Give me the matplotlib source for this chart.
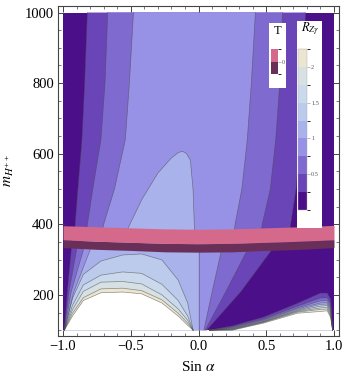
import matplotlib
matplotlib.use('Agg')
import matplotlib.pyplot as plt
from matplotlib.colors import ListedColormap, BoundaryNorm
from matplotlib.patches import Rectangle
from matplotlib.cm import ScalarMappable

plt.rcParams['font.family'] = ['Liberation Serif', 'DejaVu Serif']
plt.rcParams['mathtext.fontset'] = 'stix'

# contour levels of R_Zgamma and their fill colours
levels = [0, 0.25, 0.5, 0.75, 1.0, 1.25, 1.5, 1.75, 2.0, 2.25]
band_colors = ['#4b0f8a', '#6a45b8', '#7f6ad0', '#9892e6', '#aab2ec',
               '#bccbec', '#cad9ec', '#d7e1e3', '#ece5d0']

# upper part (above the T band): x of each contour at y_up
y_up = [340, 400, 500, 640, 800, 1000]
up_left_025 = [-0.92, -0.91, -0.89, -0.86, -0.84, -0.82]
up_left_050 = [-0.84, -0.82, -0.78, -0.72, -0.69, -0.67]
up_left_075 = [-0.73, -0.70, -0.62, -0.54, -0.51, -0.48]
up_right_075 = [0.25, 0.27, 0.32, 0.36, 0.39, 0.42]
up_right_050 = [0.45, 0.47, 0.53, 0.57, 0.60, 0.62]
up_right_025 = [0.66, 0.68, 0.72, 0.75, 0.77, 0.79]

# R = 1 tongue above the band
tent_x = [-0.56, -0.52, -0.42, -0.30, -0.20, -0.15, -0.12, -0.09, -0.06, -0.04, -0.03, -0.03]
tent_y = [340, 389, 469, 545, 588, 603, 607, 601, 582, 497, 389, 340]

# lower part (below the band): x of each contour at y_low
y_low = [100, 208, 327, 360]
low_left_025 = [-0.99, -0.968, -0.939, -0.934]
low_left_050 = [-0.99, -0.956, -0.90, -0.895]
low_left_075 = [-0.99, -0.94, -0.85, -0.842]
low_left_100 = [-0.99, -0.921, -0.80, -0.79]
low_right_100 = [0.0, 0.0, 0.0, 0.0]
low_right_075 = [0.04, 0.10, 0.17, 0.18]
low_right_050 = [0.05, 0.20, 0.36, 0.38]
low_right_025 = [0.06, 0.31, 0.54, 0.57]

# dome near the singular region: y of each contour at dome_x
dome_x = [-0.99, -0.93, -0.85, -0.72, -0.56, -0.42, -0.27, -0.15, -0.08, -0.04]
dome_125 = [100, 190, 258, 296, 313, 316, 299, 242, 177, 100]
dome_150 = [100, 170, 228, 256, 265, 261, 230, 184, 140, 100]
dome_175 = [100, 158, 210, 236, 238, 231, 200, 160, 128, 100]
dome_200 = [100, 148, 192, 217, 219, 212, 186, 148, 120, 100]
dome_225 = [100, 140, 184, 206, 208, 203, 177, 140, 114, 100]

# bottom right wedge: y of each contour at br_x
br_x = [0.08, 0.25, 0.48, 0.73, 0.90, 0.95, 0.975, 0.99]
br_025 = [100, 112, 137, 176, 205, 205, 188, 100]
br_050 = [100, 109, 132, 168, 191, 192, 175, 100]
br_075 = [100, 107, 129, 163, 183, 184, 167, 100]
br_100 = [100, 105, 127, 160, 177, 178, 161, 100]
br_125 = [100, 104, 125, 157, 173, 174, 156, 100]
br_150 = [100, 103, 124, 155, 168, 170, 151, 100]
br_175 = [100, 102, 123, 153, 163, 165, 146, 100]
br_200 = [100, 101, 122, 151, 159, 160, 141, 100]
br_225 = [100, 100, 120, 148, 153, 155, 136, 100]

# T band
band_x = [-1, -0.75, -0.5, -0.25, 0, 0.25, 0.5, 0.75, 1]
pink_top = [396, 393, 390, 387, 386, 387, 390, 393, 397]
pink_bot = [356, 352, 349, 346, 345, 346, 349, 352, 356]
dark_bot = [334, 329, 326, 322, 321, 322, 326, 329, 334]
t_colors = ['#6a2f58', '#d5698b']

line_kw = dict(color='#4a4a4a', lw=0.5, alpha=0.6, zorder=2)

fig = plt.figure(figsize=(3.46, 3.88), dpi=100)
ax = fig.add_axes([58 / 346, 52 / 388, 281 / 346, 330 / 388])

# base: everything below 0.25
ax.fill([-1, 1, 1, -1], [100, 100, 1000, 1000], color=band_colors[0], lw=0, zorder=1)


def between(left, right, ys, color):
    ax.fill(list(left) + list(right)[::-1], list(ys) + list(ys)[::-1],
            color=color, lw=0, zorder=1)
    ax.plot(left, ys, **line_kw)
    ax.plot(right, ys, **line_kw)


def dome(xs, ys, color):
    ax.fill(xs, ys, color=color, lw=0, zorder=1)
    ax.plot(xs, ys, **line_kw)


# upper part
between(up_left_025, up_right_025, y_up, band_colors[1])
between(up_left_050, up_right_050, y_up, band_colors[2])
between(up_left_075, up_right_075, y_up, band_colors[3])
dome(tent_x, tent_y, band_colors[4])

# lower part
between(low_left_025, low_right_025, y_low, band_colors[1])
between(low_left_050, low_right_050, y_low, band_colors[2])
between(low_left_075, low_right_075, y_low, band_colors[3])
between(low_left_100, low_right_100, y_low, band_colors[4])
for ys, c in zip([dome_125, dome_150, dome_175, dome_200], band_colors[5:]):
    dome(dome_x, ys, c)
dome(dome_x, dome_225, 'white')

# bottom right wedge
br_curves = [br_025, br_050, br_075, br_100, br_125, br_150, br_175, br_200]
for ys, c in zip(br_curves, band_colors[1:]):
    dome(br_x, ys, c)
dome(br_x, br_225, 'white')

# T band
ax.fill_between(band_x, dark_bot, pink_bot, color=t_colors[0], lw=0, zorder=3)
ax.fill_between(band_x, pink_bot, pink_top, color=t_colors[1], lw=0, zorder=3)

ax.set_xlim(-1.037, 1.037)
ax.set_ylim(83.5, 1018.5)
ax.set_xticks([-1.0, -0.5, 0.0, 0.5, 1.0])
ax.set_xticklabels(['\u22121.0', '\u22120.5', '0.0', '0.5', '1.0'])
ax.set_xticks([i / 10 for i in range(-10, 11)], minor=True)
ax.set_yticks([200, 400, 600, 800, 1000])
ax.set_yticks(list(range(100, 1001, 50)), minor=True)
ax.tick_params(which='both', direction='in', top=True, right=True,
               color='#444444', labelsize=10.5, pad=3)
ax.tick_params(which='major', length=4, width=0.7)
ax.tick_params(which='minor', length=2, width=0.5)
for s in ax.spines.values():
    s.set_color('#444444')
    s.set_linewidth(0.8)
ax.set_xlabel(r'Sin $\alpha$', fontsize=11, labelpad=5)
ax.set_ylabel(r'$m_{H^{++}}$', fontsize=11, labelpad=6)

# legend boxes
fig.add_artist(Rectangle((269 / 346, 1 - 88 / 388), 17 / 346, 65 / 388,
                         transform=fig.transFigure, facecolor='white',
                         edgecolor='none', zorder=5))
fig.add_artist(Rectangle((297 / 346, 1 - 228 / 388), 25 / 346, 207 / 388,
                         transform=fig.transFigure, facecolor='white',
                         edgecolor='none', zorder=5))

cax = fig.add_axes([297.5 / 346, 1 - 210 / 388, 9.5 / 346, 161 / 388])
cax.set_zorder(6)
sm = ScalarMappable(cmap=ListedColormap(band_colors), norm=BoundaryNorm(levels, len(band_colors)))
cb = fig.colorbar(sm, cax=cax, ticks=[0.5, 1, 1.5, 2])
cb.ax.set_yticklabels(['0.5', '1', '1.5', '2'])
cb.ax.tick_params(labelsize=4.5, length=2, width=0.4, color='#888888',
                  labelcolor='#555555', pad=1)
cb.outline.set_linewidth(0.3)
cb.outline.set_edgecolor('#aaaaaa')
fig.text(310 / 346, 1 - 29 / 388, r'$R_{Z\gamma}$', fontsize=9, ha='center', va='center', zorder=7)

tax = fig.add_axes([271 / 346, 1 - 74 / 388, 6.5 / 346, 25 / 388])
tax.set_zorder(6)
tsm = ScalarMappable(cmap=ListedColormap(t_colors), norm=BoundaryNorm([-1, 0, 1], 2))
tcb = fig.colorbar(tsm, cax=tax, ticks=[0])
tcb.ax.set_yticklabels(['0'])
tcb.ax.tick_params(labelsize=4.5, length=2, width=0.4, color='#888888',
                   labelcolor='#555555', pad=1)
tcb.outline.set_linewidth(0)
fig.text(278 / 346, 1 - 31 / 388, 'T', fontsize=9, ha='center', va='center', zorder=7)

plt.savefig('out.png', dpi=100)
